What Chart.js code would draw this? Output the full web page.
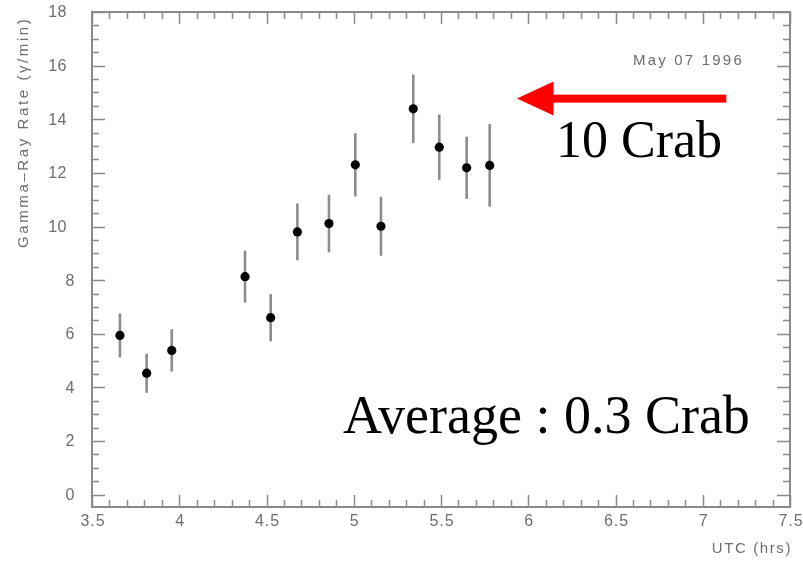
<!DOCTYPE html>
<html>
<head>
<meta charset="utf-8">
<script src="https://cdn.jsdelivr.net/npm/chart.js@4/dist/chart.umd.min.js"></script>
<style>
  html, body { margin: 0; padding: 0; background: #fff; }
  canvas { display: block; }
</style>
</head>
<body>
<canvas id="c" width="803" height="561"></canvas>
<script>
// ---- data ----
const utcHours = [3.660, 3.813, 3.957, 4.377, 4.524, 4.677, 4.858, 5.009, 5.156, 5.341, 5.490, 5.647, 5.779];
const gammaRates = [5.94, 4.53, 5.38, 8.13, 6.60, 9.80, 10.11, 12.30, 10.01, 14.39, 12.96, 12.19, 12.28];
const rateErrors = [0.82, 0.73, 0.79, 0.97, 0.88, 1.06, 1.07, 1.18, 1.10, 1.28, 1.22, 1.16, 1.54];

const xTickValues = [3.5, 4, 4.5, 5, 5.5, 6, 6.5, 7, 7.5];
const xTickLabels = ['3.5', '4', '4.5', '5', '5.5', '6', '6.5', '7', '7.5'];
const yTickValues = [0, 2, 4, 6, 8, 10, 12, 14, 16, 18];
const yTickLabels = ['0', '2', '4', '6', '8', '10', '12', '14', '16', '18'];

const xTitle = 'UTC (hrs)';
const yTitle = 'Gamma\u2013Ray Rate (\u03b3/min)';
const dateLabel = 'May 07 1996';
const peakNote = '10 Crab';
const averageNote = 'Average : 0.3 Crab';

const points = utcHours.map((t, i) => ({ x: t, y: gammaRates[i] }));

const AXIS_COLOR = '#8a8a8a';
const TEXT_COLOR = '#6e6e6e';

const framePlugin = {
  id: 'frame',
  beforeDatasetsDraw(chart) {
    const ctx = chart.ctx;
    const xs = chart.scales.x, ys = chart.scales.y;
    ctx.save();
    ctx.strokeStyle = '#8c8c8c';
    ctx.lineWidth = 2.6;
    utcHours.forEach((t, i) => {
      const px = xs.getPixelForValue(t);
      ctx.beginPath();
      ctx.moveTo(px, ys.getPixelForValue(gammaRates[i] + rateErrors[i]));
      ctx.lineTo(px, ys.getPixelForValue(gammaRates[i] - rateErrors[i]));
      ctx.stroke();
    });
    ctx.restore();
  },
  afterDraw(chart) {
    const ctx = chart.ctx;
    const xs = chart.scales.x, ys = chart.scales.y;
    const a = chart.chartArea;
    ctx.save();
    // frame
    ctx.strokeStyle = AXIS_COLOR;
    ctx.lineWidth = 2;
    ctx.strokeRect(a.left, a.top, a.right - a.left, a.bottom - a.top);
    ctx.lineWidth = 1.5;
    // x ticks (minor every 0.1, major every 0.5), bottom & top, inward
    for (let k = 0; k <= 40; k++) {
      const v = xs.min + k * 0.1;
      const px = Math.round(xs.getPixelForValue(v)) + 0.5;
      const len = (k % 5 === 0) ? 12 : 7;
      ctx.beginPath();
      ctx.moveTo(px, a.bottom); ctx.lineTo(px, a.bottom - len);
      ctx.moveTo(px, a.top); ctx.lineTo(px, a.top + len);
      ctx.stroke();
    }
    // y ticks (minor every 0.5, major every 2), left & right, inward
    for (let k = 0; k <= 36; k++) {
      const v = k * 0.5;
      const py = Math.round(ys.getPixelForValue(v)) + 0.5;
      const len = (k % 4 === 0) ? 13 : 7;
      ctx.beginPath();
      ctx.moveTo(a.left, py); ctx.lineTo(a.left + len, py);
      ctx.moveTo(a.right, py); ctx.lineTo(a.right - len, py);
      ctx.stroke();
    }
    // tick labels
    ctx.fillStyle = TEXT_COLOR;
    ctx.font = '16px "Liberation Sans", Arial, sans-serif';
    ctx.letterSpacing = '1px';
    ctx.textBaseline = 'middle';
    ctx.textAlign = 'center';
    xTickValues.forEach((v, i) => {
      ctx.fillText(xTickLabels[i], xs.getPixelForValue(v) + 1, a.bottom + 15);
    });
    ctx.letterSpacing = '0.5px';
    ctx.textAlign = 'right';
    yTickValues.forEach((v, i) => {
      const lab = yTickLabels[i];
      const rx = lab.length > 1 ? 67 : 75;
      ctx.fillText(lab, rx, ys.getPixelForValue(v) + 1);
    });
    // axis titles
    ctx.font = '15px "Liberation Sans", Arial, sans-serif';
    ctx.letterSpacing = '1.6px';
    ctx.textAlign = 'right';
    ctx.fillText(xTitle, a.right + 2, 549);
    ctx.save();
    ctx.translate(24, 248);
    ctx.rotate(-Math.PI / 2);
    ctx.letterSpacing = '2.6px';
    ctx.textAlign = 'left';
    ctx.fillText(yTitle, 0, 0);
    ctx.restore();
    // date label
    ctx.font = '15px "Liberation Sans", Arial, sans-serif';
    ctx.letterSpacing = '2.2px';
    ctx.textAlign = 'left';
    ctx.fillText(dateLabel, 633, 61);
    ctx.letterSpacing = '0px';
    // red arrow (annotation placed in data coordinates)
    const tipX = xs.getPixelForValue(5.935), tipY = ys.getPixelForValue(14.77);
    const baseX = xs.getPixelForValue(6.145), tailX = xs.getPixelForValue(7.135);
    ctx.fillStyle = '#ff0000';
    ctx.fillRect(baseX - 2, tipY - 4, tailX - baseX + 2, 8);
    ctx.beginPath();
    ctx.moveTo(tipX, tipY);
    ctx.lineTo(baseX, tipY - 17);
    ctx.lineTo(baseX, tipY + 17);
    ctx.closePath();
    ctx.fill();
    // notes
    ctx.fillStyle = '#000';
    ctx.textAlign = 'left';
    ctx.textBaseline = 'alphabetic';
    ctx.font = '52px "Liberation Serif", "Times New Roman", serif';
    ctx.fillText(peakNote, 556, 157);
    ctx.font = '54px "Liberation Serif", "Times New Roman", serif';
    ctx.fillText(averageNote, 343, 433);
    ctx.restore();
  }
};

new Chart(document.getElementById('c'), {
  type: 'scatter',
  data: {
    datasets: [{
      data: points,
      backgroundColor: '#000',
      borderColor: '#000',
      pointRadius: 4.6,
      pointHoverRadius: 4.6,
      borderWidth: 0
    }]
  },
  options: {
    responsive: false,
    animation: false,
    devicePixelRatio: 1,
    layout: { padding: { left: 92, right: 13, top: 12, bottom: 54 } },
    plugins: { legend: { display: false }, tooltip: { enabled: false } },
    events: [],
    scales: {
      x: { type: 'linear', min: 3.5, max: 7.5, display: false },
      y: { type: 'linear', min: -0.46, max: 18, display: false }
    }
  },
  plugins: [framePlugin]
});
</script>
</body>
</html>
